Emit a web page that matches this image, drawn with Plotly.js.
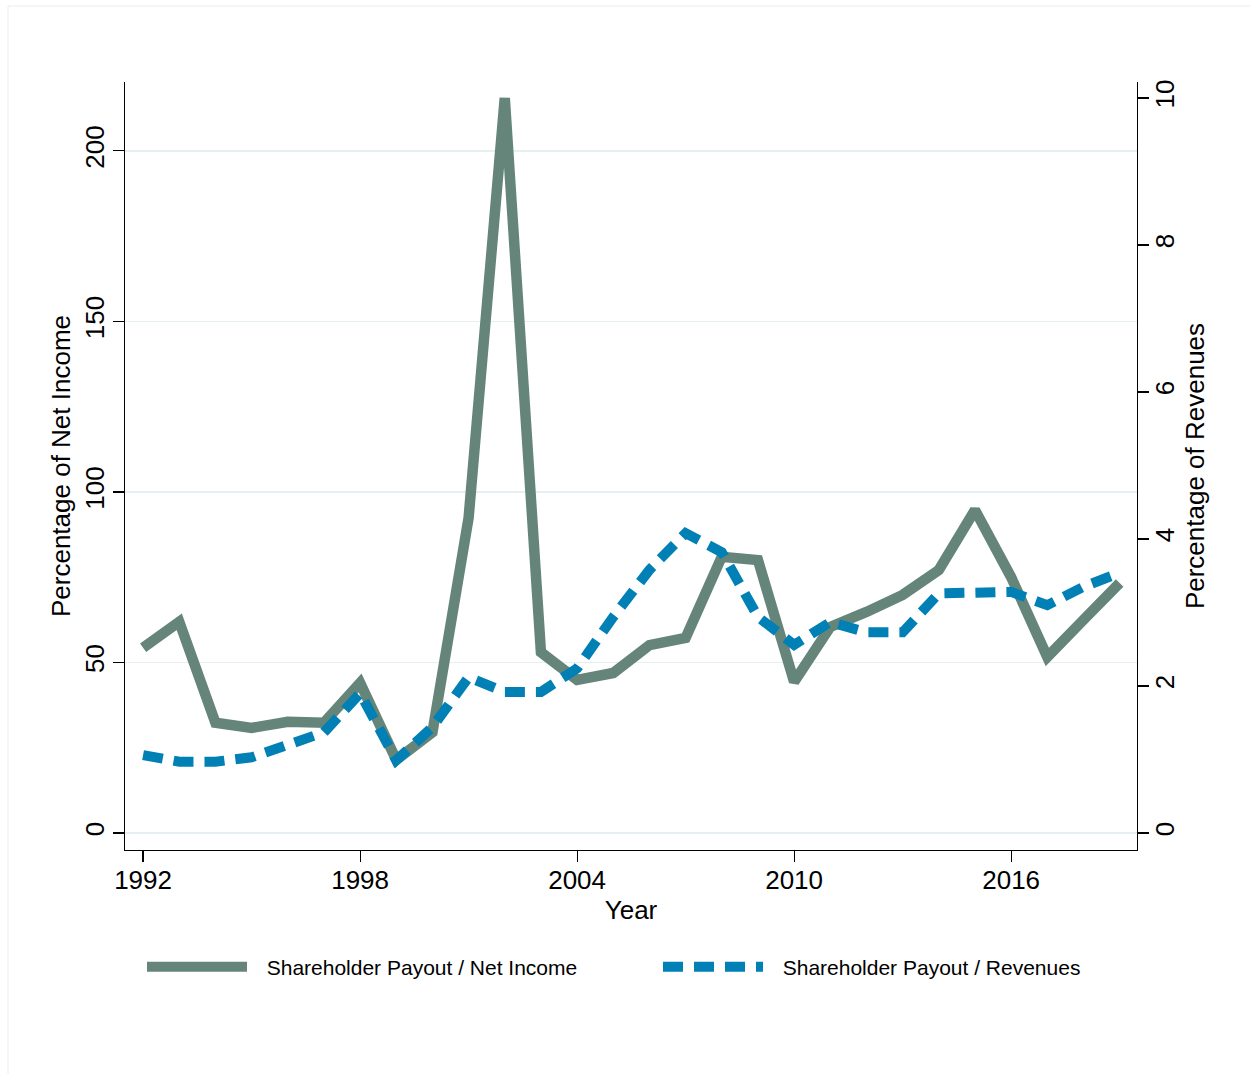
<!DOCTYPE html>
<html>
<head>
<meta charset="utf-8">
<script src="https://cdn.plot.ly/plotly-3.0.1.min.js"></script>
<style>html,body{margin:0;padding:0;background:#fff;}#chart{width:1250px;height:1074px;}</style>
</head>
<body>
<div id="chart"></div>
<script>
const years = [1992,1993,1994,1995,1996,1997,1998,1999,2000,2001,2002,2003,2004,2005,2006,2007,2008,2009,2010,2011,2012,2013,2014,2015,2016,2017,2018,2019];
const payoutNetIncome = [54.3,61.9,32.3,30.8,32.6,32.3,44.0,21.4,29.5,92.4,215.5,53.0,44.9,46.9,55.1,57.2,81.0,80.0,44.3,60.4,64.8,69.8,77.1,94.7,75.0,51.6,62.5,73.3];
const payoutRevenues = [1.06,0.97,0.97,1.03,1.20,1.37,1.90,0.99,1.44,2.12,1.92,1.92,2.24,2.94,3.58,4.08,3.82,2.94,2.56,2.87,2.73,2.73,3.26,3.26,3.28,3.10,3.35,3.54];
const xTicks = [1992,1998,2004,2010,2016];
const yLeftTicks = [0,50,100,150,200];
const yRightTicks = [0,2,4,6,8,10];
const seriesNames = ["Shareholder Payout / Net Income","Shareholder Payout / Revenues"];

const FONT = "Liberation Sans, Arial, Helvetica, sans-serif";
const L = 125, R = 113, T = 82, B = 224;
const W = 1250, H = 1074;
const pw = W - L - R, ph = H - T - B;
const px = v => (v - L) / pw;
const py = v => (H - B - v) / ph;
const GAP = "\u2002\u2009";

const traces = [
  {x: years, y: payoutNetIncome, name: GAP + seriesNames[0], type: "scatter", mode: "lines",
   line: {color: "#65857a", width: 10.5}, yaxis: "y", legend: "legend"},
  {x: years, y: payoutRevenues, name: GAP + seriesNames[1], type: "scatter", mode: "lines",
   line: {color: "#0080b4", width: 10, dash: "20px,11px"}, yaxis: "y2", legend: "legend2"}
];

const legendBase = {orientation: "h", xanchor: "left", y: py(967), yanchor: "middle",
  font: {size: 21, family: FONT}, itemwidth: 100, bgcolor: "rgba(0,0,0,0)"};

const layout = {
  width: W, height: H,
  margin: {l: L, r: R, t: T, b: B, pad: 0},
  paper_bgcolor: "#ffffff", plot_bgcolor: "#ffffff",
  font: {family: FONT, color: "#000", size: 26},
  showlegend: true,
  legend: Object.assign({}, legendBase, {x: px(142)}),
  legend2: Object.assign({}, legendBase, {x: px(658)}),
  xaxis: {range: [1991.5, 2019.48], tickvals: xTicks, ticktext: xTicks.map(String),
    showgrid: false, zeroline: false, showline: true, linecolor: "#000", linewidth: 1.2,
    ticks: "outside", ticklen: 11, tickwidth: 1.2, tickcolor: "#000", ticklabelstandoff: -4,
    tickfont: {size: 26, family: FONT},
    title: {text: "Year", font: {size: 26, family: FONT}, standoff: 4}},
  yaxis: {range: [-5, 220.2], tickvals: yLeftTicks, ticktext: yLeftTicks.map(String),
    showgrid: true, gridcolor: "#e6eff1", gridwidth: 1.5, zeroline: false,
    showline: true, linecolor: "#000", linewidth: 1.2,
    ticks: "outside", ticklen: 11, tickwidth: 1.2, tickcolor: "#000", tickangle: -90,
    ticklabelstandoff: -2,
    tickfont: {size: 26, family: FONT},
    title: {text: "Percentage of Net Income", font: {size: 26, family: FONT}, standoff: 2}},
  yaxis2: {range: [-0.231, 10.217], overlaying: "y", side: "right",
    tickvals: yRightTicks, ticktext: yRightTicks.map(String),
    showgrid: false, zeroline: false, showline: true, linecolor: "#000", linewidth: 1.2,
    ticks: "outside", ticklen: 11, tickwidth: 1.2, tickcolor: "#000", tickangle: -90,
    ticklabelstandoff: -6,
    tickfont: {size: 26, family: FONT},
    title: {text: "Percentage of Revenues", font: {size: 26, family: FONT}, standoff: 6}},
  shapes: [
    {type: "line", xref: "paper", yref: "paper", x0: px(8), x1: px(1250), y0: py(6), y1: py(6),
     line: {color: "#e8eeee", width: 1}},
    {type: "line", xref: "paper", yref: "paper", x0: px(8), x1: px(8), y0: py(6), y1: py(1074),
     line: {color: "#e8eeee", width: 1}}
  ]
};

Plotly.newPlot("chart", traces, layout, {displayModeBar: false, staticPlot: true});
</script>
</body>
</html>
